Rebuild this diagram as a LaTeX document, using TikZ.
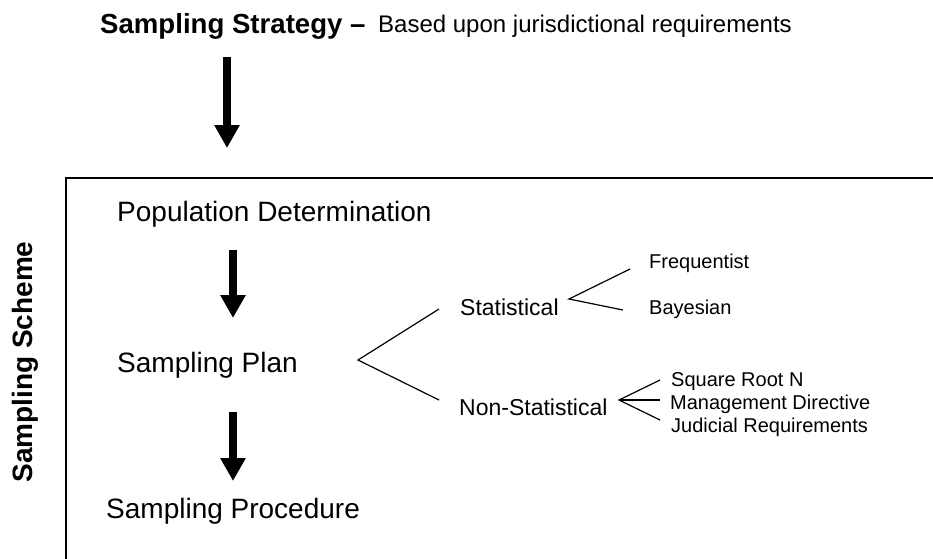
\documentclass[tikz,border=0pt]{standalone}
\usepackage{fontspec}
\setmainfont{Liberation Sans}
\usetikzlibrary{arrows.meta,positioning}
\tikzstyle{heading} = [inner sep=0pt, anchor=base west, font=\bfseries\fontsize{27.6}{32}\selectfont]
\tikzstyle{subheading} = [inner sep=0pt, anchor=base west, font=\fontsize{24}{28}\selectfont]
\tikzstyle{stage} = [inner sep=0pt, anchor=base west, font=\fontsize{28}{33}\selectfont]
\tikzstyle{branch} = [inner sep=0pt, anchor=base west, font=\fontsize{23}{27}\selectfont]
\tikzstyle{leaf} = [inner sep=0pt, anchor=base west, font=\fontsize{20}{23}\selectfont]
\tikzstyle{sidelabel} = [inner sep=0pt, anchor=base, rotate=90, font=\bfseries\fontsize{28}{33}\selectfont]
\tikzstyle{fatarrow} = [draw, line width=8pt, -{Triangle[width=24pt,length=23pt]}]
\tikzstyle{fork} = [draw, line width=1.2pt]
\tikzstyle{frame} = [draw, line width=1.6pt]

\begin{document}
\begin{tikzpicture}[x=1pt, y=-1pt]
\clip (0,0) rectangle (933,558);

% strategy ===============================
\node[heading] (strategy) at (100,33) {Sampling Strategy –};
\node[subheading] (basis) at (378,32) {Based upon jurisdictional requirements};
\coordinate (s1) at (227,57);
\coordinate (s2) at (227,148);
\path[fatarrow] (s1) -- (s2);

% scheme frame
\draw[frame] (980,178) -- (66,178) -- (66,600);
\node[sidelabel] (scheme) at (32,362) {Sampling Scheme};

% stages =================================
\node[stage] (pop) at (117,221) {Population Determination};
\node[stage] (plan) at (117,372) {Sampling Plan};
\node[stage] (proc) at (106,518) {Sampling Procedure};
\coordinate (a1) at (233,250);
\coordinate (b1) at (233,318);
\coordinate (a2) at (233,412);
\coordinate (b2) at (233,481);
\path[fatarrow] (a1) -- (b1);
\path[fatarrow] (a2) -- (b2);

% plan branches
\node[branch] (stat) at (460,315) {Statistical};
\node[branch] (nonstat) at (459,415) {Non-Statistical};
\coordinate (p0) at (358,360);
\coordinate (p1) at (439,309);
\coordinate (p2) at (439,400);
\path[fork] (p1) -- (p0) -- (p2);

% statistical leaves
\node[leaf] (freq) at (649,268) {Frequentist};
\node[leaf] (bayes) at (649,314) {Bayesian};
\coordinate (q0) at (569,299);
\coordinate (q1) at (630,269);
\coordinate (q2) at (623,310);
\path[fork] (q1) -- (q0) -- (q2);

% non-statistical leaves
\node[leaf] (sqrtn) at (671,386) {Square Root N};
\node[leaf] (mgmt) at (670,409) {Management Directive};
\node[leaf] (judic) at (671,432) {Judicial Requirements};
\coordinate (r0) at (619,400);
\coordinate (r1) at (660,380);
\coordinate (r2) at (660,400);
\coordinate (r3) at (660,420);
\path[fork] (r1) -- (r0) -- (r3);
\path[fork] (r0) -- (r2);

\end{tikzpicture}
\end{document}
